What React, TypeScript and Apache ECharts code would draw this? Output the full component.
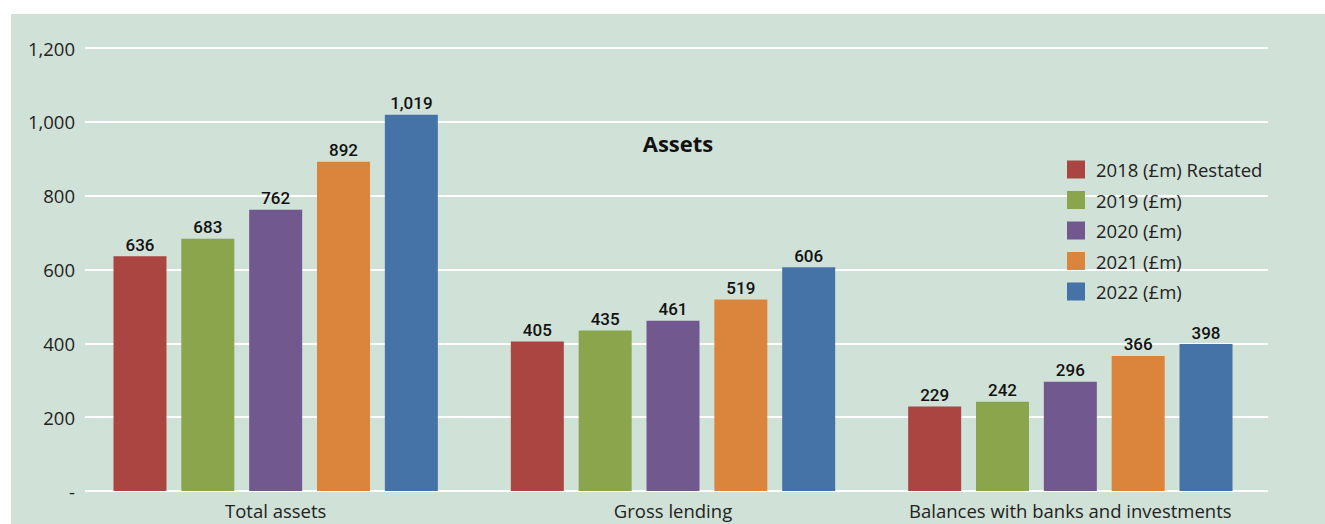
import React, { useEffect, useRef } from "react";
import * as echarts from "echarts";

const categories = ["Total assets", "Gross lending", "Balances with banks and investments"];
const seriesNames = ["2018 (£m) Restated", "2019 (£m)", "2020 (£m)", "2021 (£m)", "2022 (£m)"];
const values2018 = [636, 405, 229];
const values2019 = [683, 435, 242];
const values2020 = [762, 461, 296];
const values2021 = [892, 519, 366];
const values2022 = [1019, 606, 398];
const colors = ["#ab4542", "#8aa54c", "#71588f", "#db843b", "#4573a7"];
const yMin = 0;
const yMax = 1200;
const yStep = 200;

export default function App() {
  const ref = useRef<HTMLDivElement>(null);
  useEffect(() => {
    if (!ref.current) return;
    const chart = echarts.init(ref.current, null, { renderer: "svg" });
    const all = [values2018, values2019, values2020, values2021, values2022];
    const labelFont = "Roboto, 'DejaVu Sans Condensed', sans-serif";
    const font = "'Open Sans', 'Noto Sans', sans-serif";
    chart.setOption({
      animation: false,
      backgroundColor: "transparent",
      graphic: [
        { type: "rect", shape: { x: 11, y: 14, width: 1314, height: 510 }, style: { fill: "#d0e1d7" }, z: -10 },
      ],
      title: {
        text: "Assets",
        left: 673,
        top: 127,
        textAlign: "center",
        textStyle: { fontFamily: font, fontSize: 22, fontWeight: "bold", color: "#111" },
      },
      legend: {
        orient: "vertical",
        left: 1062,
        top: 155,
        itemWidth: 18,
        itemHeight: 18,
        itemGap: 11.5,
        icon: "rect",
        data: seriesNames,
        textStyle: { fontFamily: font, fontSize: 18.5, color: "#222", padding: [0, 0, 0, 6] },
      },
      grid: [
        { left: 77, right: 56, top: 48, bottom: 33, containLabel: false },
        { left: 85, right: 57, top: 48, bottom: 33, containLabel: false },
      ],
      xAxis: [
        {
          type: "category",
          data: categories,
          gridIndex: 0,
          axisLine: { show: false },
          axisTick: { show: false },
          axisLabel: { fontFamily: font, fontSize: 18.5, color: "#222", margin: 10, interval: 0, hideOverlap: false },
        },
        { type: "value", gridIndex: 1, show: false, min: 0, max: 1 },
      ],
      yAxis: [
        {
          type: "value",
          gridIndex: 0,
          min: yMin,
          max: yMax,
          interval: yStep,
          axisLine: { show: false },
          axisTick: { show: false },
          splitLine: { show: false },
          axisLabel: { show: false },
        },
        {
          type: "value",
          gridIndex: 1,
          min: yMin,
          max: yMax,
          interval: yStep,
          axisLine: { show: false },
          axisTick: { show: false },
          splitLine: { lineStyle: { color: "#ffffff", width: 2 } },
          axisLabel: {
            fontFamily: font,
            fontSize: 18.5,
            color: "#222",
            margin: 10,
            formatter: (v: number) => (v === 0 ? "-" : v.toLocaleString("en-GB")),
          },
        },
      ],
      series: all.map((d, i) => ({
        name: seriesNames[i],
        type: "bar",
        xAxisIndex: 0,
        yAxisIndex: 0,
        data: d,
        barWidth: 53,
        barGap: "28%",
        itemStyle: { color: colors[i] },
        label: {
          show: true,
          position: "top",
          distance: 3,
          fontFamily: labelFont,
          fontSize: 17,
          fontWeight: 500,
          color: "#111",
          formatter: (p: any) => Number(p.value).toLocaleString("en-GB"),
        },
      })),
    });
    return () => chart.dispose();
  }, []);
  return (
    <div style={{ position: "absolute", left: 0, top: 0, width: 1325, height: 524, background: "#fff" }}>
      <div ref={ref} style={{ width: 1325, height: 524 }} />
    </div>
  );
}
